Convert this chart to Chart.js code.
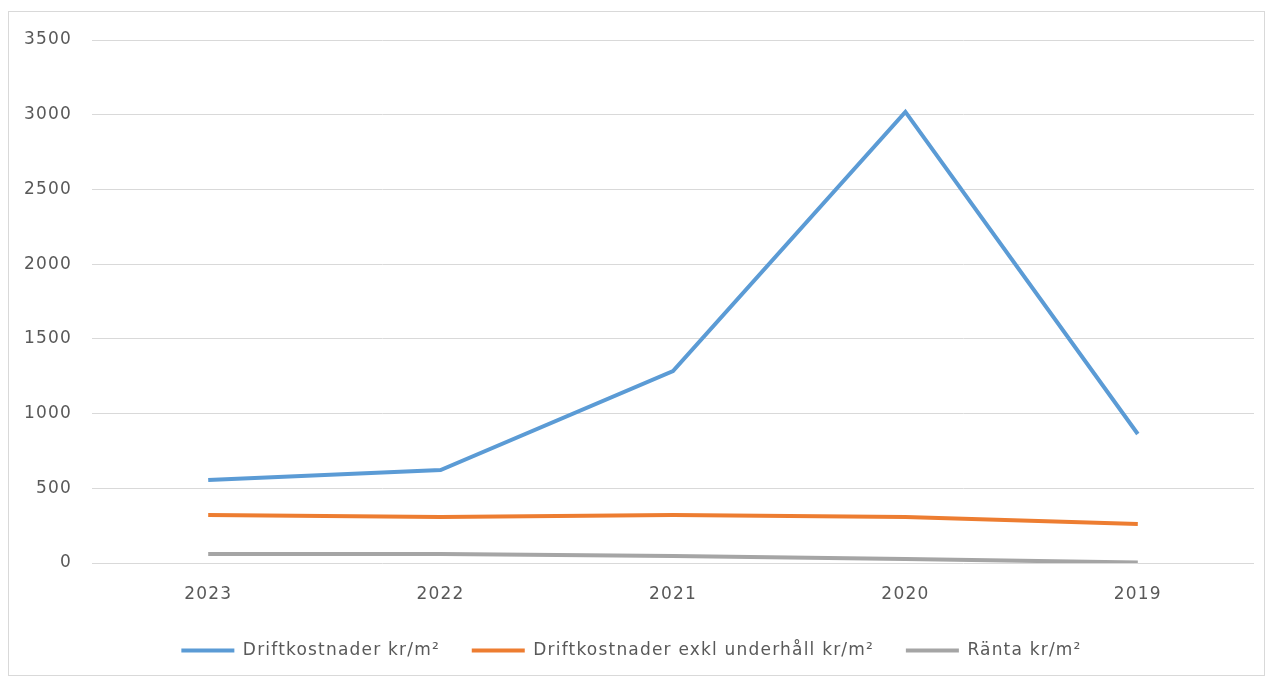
<!DOCTYPE html>
<html><head><meta charset="utf-8">
<script src="https://cdn.jsdelivr.net/npm/chart.js@4"></script>
<style>
html,body{margin:0;padding:0;background:#fff;width:1269px;height:678px;overflow:hidden}
#box{position:absolute;left:8px;top:11px;width:1257px;height:665px;border:1px solid #d9d9d9;box-sizing:border-box}
canvas{display:block}
</style></head><body>
<div id="box"><canvas id="c" width="1255" height="663"></canvas></div>
<script>
const categories = ["2023","2022","2021","2020","2019"];
const drift = [555, 622, 1285, 3019, 863];
const driftExkl = [321, 308, 321, 308, 261];
const ranta = [60, 60, 47, 27, 3];
const yTicks = [0,500,1000,1500,2000,2500,3000,3500];
const seriesNames = ["Driftkostnader kr/m²","Driftkostnader exkl underhåll kr/m²","Ränta kr/m²"];
const colors = ["#5b9bd5","#ed7d31","#a5a5a5"];
const FONT = "'DejaVu Sans', sans-serif";
const LS = '1.2px';
const spacing = {
  id:'spacing',
  beforeUpdate(c){c.ctx.letterSpacing=LS;},
  beforeLayout(c){c.ctx.letterSpacing=LS;},
  beforeDraw(c){c.ctx.letterSpacing=LS;}
};
new Chart(document.getElementById('c'), {
  type:'line',
  plugins:[spacing],
  data:{labels:categories, datasets:[drift,driftExkl,ranta].map((d,i)=>({
    label:seriesNames[i], data:d, borderColor:colors[i], backgroundColor:colors[i],
    borderWidth:4, pointRadius:0, tension:0, borderCapStyle:'butt'
  }))},
  options:{
    responsive:false, animation:false,
    layout:{padding:{top:28,right:10,left:0,bottom:6}},
    plugins:{
      tooltip:{enabled:false},
      legend:{position:'bottom',labels:{boxWidth:53,boxHeight:4,color:'#595959',font:{family:FONT,size:17},padding:12,
        generateLabels(chart){
          return chart.data.datasets.map((ds,i)=>({
            text: ds.label + (i<2 ? '   ' : ''),
            fillStyle: ds.borderColor, strokeStyle: ds.borderColor, lineWidth:0,
            fontColor:'#595959', hidden:false, datasetIndex:i
          }));
        }}}
    },
    scales:{
      x:{offset:true, grid:{display:false,drawTicks:false}, border:{display:false},
         ticks:{color:'#595959',font:{family:FONT,size:17},padding:21},
         afterFit(s){s.height=67;}},
      y:{min:0,max:3500, afterBuildTicks(s){s.ticks=yTicks.map(v=>({value:v}));},
         grid:{color:'#d9d9d9',lineWidth:1,drawTicks:false}, border:{display:false},
         ticks:{color:'#595959',font:{family:FONT,size:17},padding:20,callback:v=>String(v)},
         afterFit(s){s.width=83;s.paddingTop=0;s.paddingBottom=0;}}
    }
  }
});
</script>
</body></html>
